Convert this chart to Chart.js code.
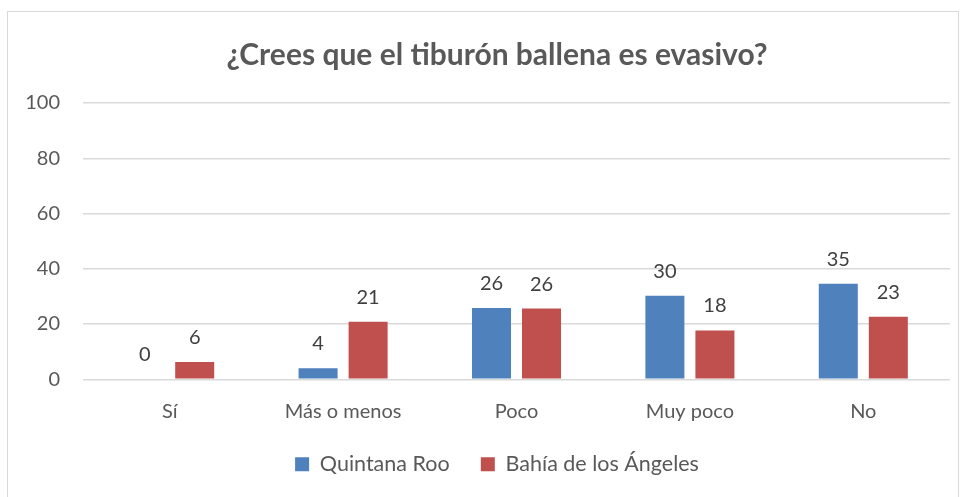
<!DOCTYPE html>
<html>
<head>
<meta charset="utf-8">
<script src="https://cdn.jsdelivr.net/npm/chart.js@4"></script>
<style>
  html, body { margin: 0; padding: 0; background: #fff; }
  #wrap { position: relative; width: 966px; height: 497px; }
  #frame { position: absolute; left: 7px; top: 11px; width: 952px; height: 500px; border: 1px solid #d9d9d9; box-sizing: border-box; }
  #grafik { position: absolute; left: 0; top: 0; }
</style>
</head>
<body>
<div id="wrap">
  <div id="frame"></div>
  <canvas id="grafik" width="966" height="497"></canvas>
</div>
<script>
const categories = ["Sí", "Más o menos", "Poco", "Muy poco", "No"];
const quintanaRoo = [0, 4, 25.8, 30.2, 34.6];
const bahiaAngeles = [6.3, 20.8, 25.6, 17.7, 22.6];
const yTicks = [0, 20, 40, 60, 80, 100];

const textColor = "#595959";
const fontFam = "Lato, 'Open Sans', sans-serif";

// etiquetas de valor encima de cada barra
const valueLabels = {
  id: "valueLabels",
  afterDatasetsDraw(chart) {
    const ctx = chart.ctx;
    ctx.save();
    ctx.font = "20px " + fontFam;
    ctx.fillStyle = "#404040";
    ctx.textAlign = "center";
    ctx.textBaseline = "middle";
    chart.data.datasets.forEach((ds, i) => {
      chart.getDatasetMeta(i).data.forEach((bar, j) => {
        ctx.fillText(Math.round(ds.data[j]), bar.x, bar.y - 24.5);
      });
    });
    ctx.restore();
  }
};

const ctx = document.getElementById("grafik").getContext("2d");
new Chart(ctx, {
  type: "bar",
  data: {
    labels: categories,
    datasets: [
      { label: "Quintana Roo", data: quintanaRoo, backgroundColor: "#4F81BD" },
      { label: "Bahía de los Ángeles", data: bahiaAngeles, backgroundColor: "#C0504D" }
    ]
  },
  options: {
    responsive: false,
    animation: false,
    categoryPercentage: 0.577,
    barPercentage: 0.78,
    layout: { padding: { left: 44, right: 16, top: 0, bottom: 12 } },
    plugins: {
      title: {
        display: true,
        text: "¿Crees que el tiburón ballena es evasivo?",
        color: textColor,
        font: { family: fontFam, size: 30, weight: "bold", lineHeight: 1.2 },
        padding: { top: 37, bottom: 30 }
      },
      legend: {
        position: "bottom",
        labels: {
          color: textColor,
          font: { family: fontFam, size: 21.5 },
          boxWidth: 14,
          boxHeight: 14,
          padding: 31.2
        }
      },
      tooltip: { enabled: false }
    },
    scales: {
      x: {
        grid: { display: false },
        border: { display: false },
        ticks: { color: textColor, font: { family: fontFam, size: 20 }, padding: 12 },
        afterFit: (scale) => { scale.height = 43; }
      },
      y: {
        min: 0,
        max: 100,
        afterBuildTicks: (axis) => { axis.ticks = yTicks.map(v => ({ value: v })); },
        grid: { color: "#d9d9d9", lineWidth: 1.5, drawTicks: false },
        border: { display: false },
        ticks: { color: textColor, font: { family: fontFam, size: 20 }, padding: 23 },
        afterFit: (scale) => {
          scale.width = 39;
          // no recortar las etiquetas que salen del ancho del eje
          scale._computeLabelArea = () => undefined;
        }
      }
    }
  },
  plugins: [valueLabels]
});
</script>
</body>
</html>
